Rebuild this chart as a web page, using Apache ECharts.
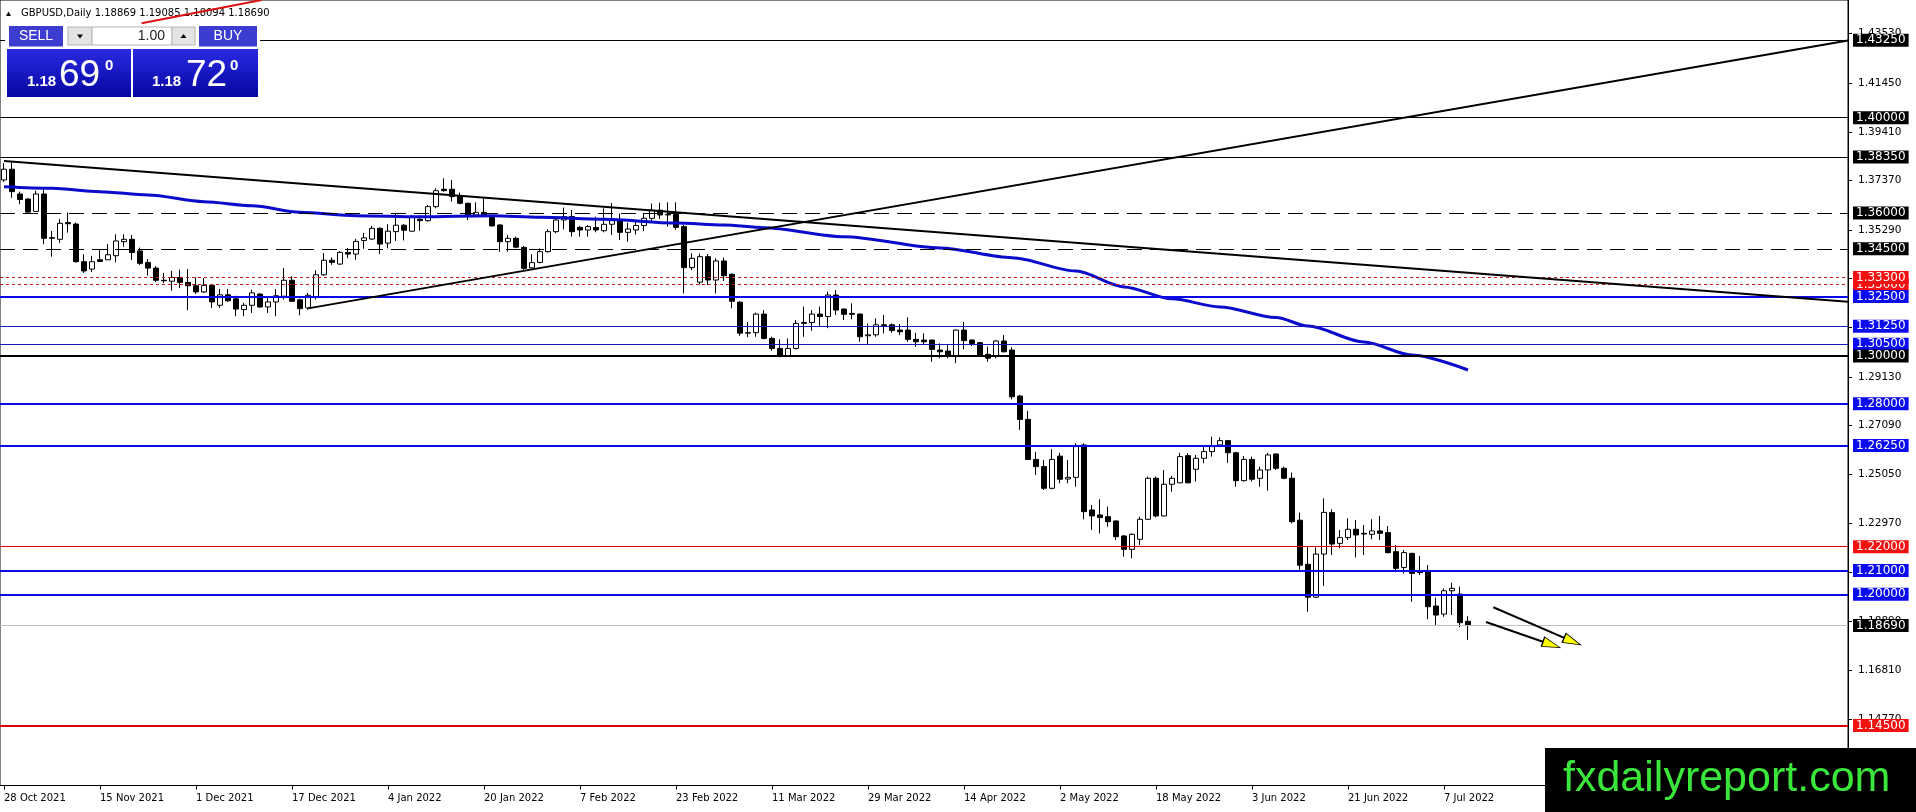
<!DOCTYPE html>
<html><head><meta charset="utf-8">
<script src="https://cdn.jsdelivr.net/npm/echarts@6/dist/echarts.min.js"></script>
<style>html,body{margin:0;padding:0;background:#fff;overflow:hidden}#c{width:1916px;height:812px}</style>
</head><body><div id="c"></div>
<script>
// ---------- DATA ----------
const dates = [
'2021-10-28','2021-10-29',
'2021-11-01','2021-11-02','2021-11-03','2021-11-04','2021-11-05','2021-11-08','2021-11-09','2021-11-10','2021-11-11','2021-11-12',
'2021-11-15','2021-11-16','2021-11-17','2021-11-18','2021-11-19','2021-11-22','2021-11-23','2021-11-24','2021-11-25','2021-11-26','2021-11-29','2021-11-30',
'2021-12-01','2021-12-02','2021-12-03','2021-12-06','2021-12-07','2021-12-08','2021-12-09','2021-12-10','2021-12-13','2021-12-14','2021-12-15','2021-12-16',
'2021-12-17','2021-12-20','2021-12-21','2021-12-22','2021-12-23','2021-12-24','2021-12-27','2021-12-28','2021-12-29','2021-12-30','2021-12-31',
'2022-01-03','2022-01-04','2022-01-05','2022-01-06','2022-01-07','2022-01-10','2022-01-11','2022-01-12','2022-01-13','2022-01-14',
'2022-01-17','2022-01-18','2022-01-19','2022-01-20','2022-01-21','2022-01-24','2022-01-25','2022-01-26','2022-01-27','2022-01-28','2022-01-31',
'2022-02-01','2022-02-02','2022-02-03','2022-02-04','2022-02-07','2022-02-08','2022-02-09','2022-02-10','2022-02-11',
'2022-02-14','2022-02-15','2022-02-16','2022-02-17','2022-02-18','2022-02-21','2022-02-22','2022-02-23','2022-02-24','2022-02-25','2022-02-28',
'2022-03-01','2022-03-02','2022-03-03','2022-03-04','2022-03-07','2022-03-08','2022-03-09','2022-03-10','2022-03-11',
'2022-03-14','2022-03-15','2022-03-16','2022-03-17','2022-03-18','2022-03-21','2022-03-22','2022-03-23','2022-03-24','2022-03-25',
'2022-03-28','2022-03-29','2022-03-30','2022-03-31','2022-04-01','2022-04-04','2022-04-05','2022-04-06','2022-04-07','2022-04-08',
'2022-04-11','2022-04-12','2022-04-13','2022-04-14','2022-04-15','2022-04-18','2022-04-19','2022-04-20','2022-04-21','2022-04-22',
'2022-04-25','2022-04-26','2022-04-27','2022-04-28','2022-04-29','2022-05-02','2022-05-03','2022-05-04','2022-05-05','2022-05-06',
'2022-05-09','2022-05-10','2022-05-11','2022-05-12','2022-05-13','2022-05-16','2022-05-17','2022-05-18','2022-05-19','2022-05-20',
'2022-05-23','2022-05-24','2022-05-25','2022-05-26','2022-05-27','2022-05-30','2022-05-31','2022-06-01','2022-06-02','2022-06-03',
'2022-06-06','2022-06-07','2022-06-08','2022-06-09','2022-06-10','2022-06-13','2022-06-14','2022-06-15','2022-06-16','2022-06-17',
'2022-06-20','2022-06-21','2022-06-22','2022-06-23','2022-06-24','2022-06-27','2022-06-28','2022-06-29','2022-06-30',
'2022-07-01','2022-07-04','2022-07-05','2022-07-06','2022-07-07','2022-07-08','2022-07-11','2022-07-12'
];
const opens = [
1.3739,1.3784,1.3680,1.3659,1.3607,1.3680,1.3494,1.3490,1.3560,1.3554,
1.3396,1.3365,1.3404,1.3404,1.3421,1.3480,1.3490,1.3441,1.3393,1.3369,
1.3318,1.3314,1.3330,1.3309,1.3295,1.3269,1.3297,1.3213,1.3257,1.3240,
1.3195,1.3213,1.3260,1.3206,1.3227,1.3251,1.3318,1.3236,1.3202,1.3248,
1.3341,1.3402,1.3386,1.3435,1.3428,1.3485,1.3491,1.3536,1.3474,1.3522,
1.3549,1.3524,1.3574,1.3568,1.3627,1.3700,1.3700,1.3672,1.3641,1.3592,
1.3603,1.3582,1.3550,1.3480,1.3494,1.3456,1.3370,1.3393,1.3438,1.3522,
1.3571,1.3585,1.3540,1.3529,1.3539,1.3526,1.3553,1.3568,1.3519,1.3529,
1.3548,1.3578,1.3612,1.3592,1.3595,1.3543,1.3371,1.3310,1.3417,1.3319,
1.3399,1.3343,1.3226,1.3096,1.3098,1.3176,1.3074,1.3032,1.2999,1.3032,
1.3137,1.3141,1.3176,1.3166,1.3256,1.3197,1.3179,1.3176,1.3085,1.3089,
1.3131,1.3131,1.3109,1.3109,1.3070,1.3067,1.3067,1.3025,1.3021,1.3000,
1.3109,1.3067,1.3056,1.3007,1.2998,1.3063,1.3025,1.2832,1.2734,1.2566,
1.2536,1.2445,1.2580,1.2484,1.2491,1.2627,1.2354,1.2333,1.2326,1.2308,
1.2245,1.2189,1.2231,1.2315,1.2487,1.2329,1.2462,1.2468,1.2582,1.2525,
1.2571,1.2599,1.2627,1.2645,1.2594,1.2477,1.2566,1.2487,1.2522,1.2589,
1.2529,1.2487,1.2311,1.2126,1.1988,1.2169,1.2343,1.2214,1.2238,1.2273,
1.2256,1.2252,1.2266,1.2259,1.2179,1.2113,1.2172,1.2098,1.2098,1.1951,
1.1917,1.2015,1.2001,1.18869
];
const highs = [
1.3810,1.3816,1.3690,1.3662,1.3694,1.3701,1.3525,1.3575,1.3602,1.3560,
1.3427,1.3420,1.3445,1.3470,1.3511,1.3511,1.3508,1.3455,1.3407,1.3377,
1.3349,1.3358,1.3362,1.3365,1.3330,1.3327,1.3302,1.3281,1.3281,1.3253,
1.3223,1.3278,1.3265,1.3251,1.3281,1.3369,1.3335,1.3241,1.3265,1.3360,
1.3432,1.3414,1.3440,1.3453,1.3492,1.3517,1.3546,1.3540,1.3553,1.3599,
1.3553,1.3592,1.3592,1.3634,1.3704,1.3746,1.3739,1.3686,1.3644,1.3645,
1.3662,1.3588,1.3553,1.3508,1.3501,1.3462,1.3427,1.3452,1.3532,1.3578,
1.3623,1.3613,1.3546,1.3550,1.3585,1.3620,1.3642,1.3598,1.3560,1.3570,
1.3600,1.3640,1.3643,1.3645,1.3645,1.3550,1.3431,1.3430,1.3428,1.3410,
1.3413,1.3347,1.3231,1.3142,1.3182,1.3193,1.3081,1.3070,1.3074,1.3151,
1.3207,1.3193,1.3207,1.3270,1.3277,1.3200,1.3221,1.3179,1.3137,1.3158,
1.3172,1.3137,1.3134,1.3162,1.3098,1.3095,1.3069,1.3053,1.3050,1.3112,
1.3144,1.3070,1.3060,1.3039,1.3067,1.3088,1.3037,1.2837,1.2770,1.2598,
1.2564,1.2609,1.2594,1.2564,1.2634,1.2634,1.2375,1.2399,1.2368,1.2310,
1.2249,1.2256,1.2326,1.2494,1.2494,1.2522,1.2497,1.2594,1.2592,1.2585,
1.2620,1.2662,1.2659,1.2648,1.2598,1.2580,1.2578,1.2536,1.2594,1.2592,
1.2536,1.2511,1.2343,1.2203,1.2197,1.2403,1.2357,1.2270,1.2319,1.2312,
1.2291,1.2315,1.2329,1.2287,1.2207,1.2186,1.2174,1.2161,1.2123,1.1986,
1.2025,1.2049,1.2032,1.19085
];
const lows = [
1.3731,1.3664,1.3637,1.3599,1.3605,1.3469,1.3417,1.3475,1.3518,1.3392,
1.3349,1.3353,1.3396,1.3403,1.3393,1.3459,1.3403,1.3382,1.3337,1.3311,
1.3307,1.3274,1.3285,1.3192,1.3261,1.3265,1.3202,1.3202,1.3227,1.3167,
1.3167,1.3181,1.3202,1.3181,1.3167,1.3237,1.3227,1.3171,1.3194,1.3237,
1.3337,1.3383,1.3383,1.3411,1.3404,1.3450,1.3487,1.3428,1.3452,1.3483,
1.3485,1.3522,1.3526,1.3564,1.3620,1.3690,1.3648,1.3637,1.3571,1.3588,
1.3588,1.3543,1.3438,1.3438,1.3452,1.3361,1.3365,1.3389,1.3434,1.3515,
1.3532,1.3501,1.3501,1.3501,1.3519,1.3519,1.3508,1.3487,1.3480,1.3510,
1.3525,1.3560,1.3575,1.3543,1.3530,1.3263,1.3361,1.3300,1.3298,1.3263,
1.3315,1.3200,1.3085,1.3079,1.3081,1.3070,1.3022,1.2995,1.2997,1.3028,
1.3081,1.3106,1.3123,1.3117,1.3172,1.3151,1.3154,1.3060,1.3046,1.3081,
1.3095,1.3098,1.3088,1.3060,1.3039,1.3050,1.2976,1.2991,1.2991,1.2970,
1.3028,1.3042,1.3000,1.2976,1.2991,1.3015,1.2818,1.2690,1.2564,1.2501,
1.2438,1.2441,1.2466,1.2466,1.2452,1.2315,1.2270,1.2256,1.2284,1.2228,
1.2158,1.2151,1.2207,1.2312,1.2323,1.2326,1.2431,1.2466,1.2466,1.2473,
1.2550,1.2578,1.2620,1.2552,1.2452,1.2473,1.2473,1.2452,1.2435,1.2522,
1.2483,1.2298,1.2102,1.1927,1.1985,1.2035,1.2165,1.2193,1.2228,1.2155,
1.2165,1.2231,1.2228,1.2172,1.2102,1.2088,1.1969,1.2081,1.1895,1.1867,
1.1906,1.1913,1.1862,1.18094
];
const closes = [
1.3784,1.3690,1.3657,1.3604,1.3680,1.3494,1.3497,1.3557,1.3555,1.3396,
1.3357,1.3396,1.3397,1.3425,1.3483,1.3490,1.3435,1.3389,1.3369,1.3318,
1.3316,1.3330,1.3309,1.3295,1.3269,1.3297,1.3227,1.3257,1.3232,1.3197,
1.3213,1.3265,1.3206,1.3227,1.3253,1.3318,1.3230,1.3199,1.3255,1.3341,
1.3402,1.3393,1.3435,1.3428,1.3481,1.3496,1.3536,1.3470,1.3524,1.3549,
1.3528,1.3582,1.3568,1.3627,1.3694,1.3694,1.3669,1.3641,1.3592,1.3603,
1.3592,1.3546,1.3480,1.3494,1.3457,1.3368,1.3392,1.3438,1.3522,1.3571,
1.3585,1.3522,1.3529,1.3543,1.3529,1.3553,1.3568,1.3519,1.3533,1.3548,
1.3578,1.3612,1.3592,1.3595,1.3540,1.3371,1.3410,1.3417,1.3319,1.3399,
1.3337,1.3230,1.3096,1.3098,1.3176,1.3074,1.3032,1.2999,1.3032,1.3137,
1.3141,1.3176,1.3166,1.3256,1.3193,1.3175,1.3175,1.3081,1.3089,1.3131,
1.3128,1.3107,1.3102,1.3070,1.3060,1.3060,1.3028,1.3018,1.3000,1.3109,
1.3065,1.3053,1.3004,1.2991,1.3063,1.3018,1.2829,1.2734,1.2566,1.2536,
1.2445,1.2566,1.2483,1.2491,1.2620,1.2347,1.2329,1.2322,1.2305,1.2242,
1.2189,1.2252,1.2315,1.2487,1.2329,1.2462,1.2487,1.2578,1.2468,1.2571,
1.2599,1.2620,1.2645,1.2594,1.2477,1.2566,1.2483,1.2522,1.2585,1.2529,
1.2487,1.2305,1.2122,1.1988,1.2169,1.2344,1.2211,1.2238,1.2273,1.2249,
1.2253,1.2266,1.2256,1.2175,1.2109,1.2175,1.2088,1.2091,1.1948,1.1913,
1.2015,1.2025,1.1881,1.18690
];
// moving average, read at sample bars
const maBars   = [0,6,12,18,25,31,37,44,52,61,67,75,84,90,95,105,117,126,134,140,146,152,159,163,170,176,183];
const maValues = [1.37106,1.37039,1.36897,1.36758,1.36477,1.36309,1.36032,1.35890,1.35848,1.35890,1.35822,1.35738,1.35583,1.35499,1.35386,1.35008,1.34534,1.34127,1.33569,1.32900,1.32400,1.32060,1.31618,1.31260,1.30590,1.30044,1.29415];
// trend lines [bar, price]
const fallingTrend = [[0,1.38185],[230.5,1.32281]];
const risingTrend  = [[38,1.3200],[230.5,1.4324]];
const redTrend     = [[17.2,1.43963],[32.2,1.44941]];
const arrowUpper   = [[186.16,1.19457],[196.05,1.18026]];
const arrowLower   = [[185.25,1.18839],[193.44,1.17887]];
// price axis tick labels
const priceTicks = [1.43530,1.41450,1.39410,1.37370,1.35290,1.33250,1.31210,1.29130,1.27090,1.25050,1.22970,1.20930,1.18890,1.16810,1.14770];
// horizontal levels grouped by drawing style
const blackSolidLevels = [1.43250,1.40000,1.38350];
const blackDashedLevels = [1.36000,1.34500];
const redDottedLevels = [1.33000,1.33300];
const blueThickLevels = [1.32500,1.28000,1.26250,1.21000,1.20000];
const blueThinLevels = [1.31250,1.30500];
const blackThickLevels = [1.30000];
const redThinLevels = [1.22000];
const redThickLevels = [1.14500];
const bidLevels = [1.18690];
const titleText = 'GBPUSD,Daily 1.18869 1.19085 1.18094 1.18690';

// ---------- BUILD ----------
const N = 231;
const cats = dates.slice();
for (let i = dates.length; i < N; i++) cats.push('_' + i);
const months = ['Jan','Feb','Mar','Apr','May','Jun','Jul','Aug','Sep','Oct','Nov','Dec'];
function fmtDate(s){ if(s.charAt(0)==='_') return ''; const p=s.split('-'); return (+p[2])+' '+months[+p[1]-1]+' '+p[0]; }
const candleData = dates.map((d,i)=>[opens[i],closes[i],lows[i],highs[i]]);
const showIdx = (idx)=> idx % 12 === 0 && idx < dates.length;

const BLUE='#0a0ae6', BLUEBOX='#0b0bf2', RED='#e00000', REDBOX='#f21010';
function lvl(v, color, width, type, box){
  return { yAxis: v, lineStyle:{color:color,width:width,type:type},
    label:{show:true,position:'end',distance:5,formatter:v.toFixed(5),color:'#fff',backgroundColor:box,
      padding:[1,3,0,3],fontSize:12,lineHeight:12,fontFamily:'"DejaVu Sans", sans-serif'} };
}
const levelItems = [];
blackSolidLevels.forEach(v=>levelItems.push(lvl(v,'#000',1,'solid','#000')));
blackDashedLevels.forEach(v=>levelItems.push(lvl(v,'#000',1,[15,8],'#000')));
redDottedLevels.forEach(v=>levelItems.push(lvl(v,'#c01818',1,[3,3],REDBOX)));
blueThinLevels.forEach(v=>levelItems.push(lvl(v,'#1818b8',1,'solid',BLUEBOX)));
blackThickLevels.forEach(v=>levelItems.push(lvl(v,'#000',2,'solid','#000')));
blueThickLevels.forEach(v=>levelItems.push(lvl(v,BLUE,2,'solid',BLUEBOX)));
redThinLevels.forEach(v=>levelItems.push(lvl(v,RED,1,'solid',REDBOX)));
redThickLevels.forEach(v=>levelItems.push(lvl(v,RED,2,'solid',REDBOX)));
bidLevels.forEach(v=>levelItems.push(lvl(v,'#c0c0c0',1,'solid','#000')));

function lineSeries(data, color, width, z){
  return {type:'line',xAxisIndex:1,yAxisIndex:0,data:data,symbol:'none',silent:true,z:z||3,
    lineStyle:{color:color,width:width},animation:false};
}
const AR='"Liberation Sans", Arial, sans-serif';
const DJ='"DejaVu Sans", sans-serif';
function txt(t,x,y,font,fill,align){
  return {type:'text',z:102,style:{text:t,x:x,y:y,font:font,fill:fill,align:align||'left',textAlign:align||'left',verticalAlign:'middle',textVerticalAlign:'middle'}};
}
const boxGrad = {type:'linear',x:0,y:0,x2:0,y2:1,colorStops:[{offset:0,color:'#2a2ae2'},{offset:1,color:'#0606a2'}]};
const graphics = [
  {type:'polygon',z:1,shape:{points:[[6,16],[8.5,11.5],[11,16]]},style:{fill:'#000'}},
  {type:'text',z:1,style:{text:titleText,x:21,y:13.5,font:'10px '+DJ,fill:'#000',verticalAlign:'middle',textVerticalAlign:'middle'}},
  {type:'rect',z:100,shape:{x:5,y:24,width:255,height:74},style:{fill:'#fff'}},
  {type:'rect',z:101,shape:{x:9,y:26,width:54,height:20},style:{fill:'#3c3cd0'}},
  {type:'rect',z:101,shape:{x:9,y:46,width:54,height:1},style:{fill:'#9c9cec'}},
  {type:'rect',z:101,shape:{x:68,y:27,width:24,height:18},style:{fill:'#e4e4e4',stroke:'#b4b4b4',lineWidth:1}},
  {type:'polygon',z:102,shape:{points:[[77,34.5],[83,34.5],[80,38.5]]},style:{fill:'#000'}},
  {type:'rect',z:101,shape:{x:92,y:27,width:80,height:18},style:{fill:'#fff',stroke:'#b4b4b4',lineWidth:1}},
  {type:'rect',z:101,shape:{x:172,y:27,width:23,height:18},style:{fill:'#e4e4e4',stroke:'#b4b4b4',lineWidth:1}},
  {type:'polygon',z:102,shape:{points:[[180.5,38],[186.5,38],[183.5,34]]},style:{fill:'#000'}},
  {type:'rect',z:101,shape:{x:199,y:26,width:58,height:20},style:{fill:'#3c3cd0'}},
  {type:'rect',z:101,shape:{x:199,y:46,width:58,height:1},style:{fill:'#9c9cec'}},
  txt('SELL',36,36.5,'14px '+AR,'#fff','center'),
  txt('1.00',165,36.5,'14px '+AR,'#222','right'),
  txt('BUY',228,36.5,'14px '+AR,'#fff','center'),
  {type:'rect',z:101,shape:{x:7,y:49,width:124,height:48},style:{fill:boxGrad}},
  {type:'rect',z:101,shape:{x:133,y:49,width:125,height:48},style:{fill:boxGrad}},
  txt('1.18',27,82,'bold 15px '+AR,'#fff'),
  txt('69',59,75.5,'37px '+AR,'#fff'),
  txt('0',105,66,'bold 15px '+AR,'#fff'),
  txt('1.18',152,82,'bold 15px '+AR,'#fff'),
  txt('72',186,75.5,'37px '+AR,'#fff'),
  txt('0',230,66,'bold 15px '+AR,'#fff'),
  {type:'rect',z:110,shape:{x:1545,y:748,width:371,height:64},style:{fill:'#000'}},
  {type:'text',z:111,style:{text:'fxdailyreport.com',x:1563,y:779,font:'43px '+AR,fill:'#3be63b',verticalAlign:'middle',textVerticalAlign:'middle'}}
];

const option = {
  animation:false,
  backgroundColor:'#fff',
  grid:{left:0,top:0,width:1848,bottom:26.5,show:true,borderColor:'#000',borderWidth:1,backgroundColor:'transparent'},
  xAxis:[
    {type:'category',data:cats,boundaryGap:true,
     axisLine:{show:true,onZero:false,lineStyle:{color:'#000',width:1}},
     axisTick:{show:true,interval:showIdx,alignWithLabel:true,length:4,lineStyle:{color:'#000'}},
     axisLabel:{show:true,interval:showIdx,align:'left',margin:8,color:'#000',fontSize:10,fontFamily:DJ,formatter:fmtDate},
     splitLine:{show:false}},
    {type:'value',min:-0.5,max:N-0.5,show:false,axisLine:{onZero:false},splitLine:{show:false}}
  ],
  yAxis:{type:'value',position:'right',min:1.11978,max:1.44941,
    axisLine:{show:true,onZero:false,lineStyle:{color:'#000'}},
    axisTick:{show:true,length:4,customValues:priceTicks,lineStyle:{color:'#000'}},
    axisLabel:{show:true,customValues:priceTicks,margin:10,color:'#000',fontSize:10.5,fontFamily:DJ,formatter:(v)=>v.toFixed(5)},
    splitLine:{show:false}},
  series:[
    {type:'candlestick',xAxisIndex:0,yAxisIndex:0,data:candleData,barWidth:5,silent:true,
     itemStyle:{color:'#fff',color0:'#000',borderColor:'#000',borderColor0:'#000',borderWidth:1},
     markLine:{silent:true,precision:6,symbol:['none','none'],animation:false,data:levelItems,z:5}},
    Object.assign(lineSeries(maBars.map((b,i)=>[b,maValues[i]]),'#0b0bcc',3,4),{smooth:0.3,smoothMonotone:'x'}),
    lineSeries(fallingTrend,'#000',2,6),
    lineSeries(risingTrend,'#000',2,6),
    lineSeries(redTrend,'#dd1111',2,6),
    lineSeries(arrowUpper,'#000',2,7),
    lineSeries(arrowLower,'#000',2,7),
    {type:'scatter',xAxisIndex:1,yAxisIndex:0,silent:true,z:8,symbol:'triangle',symbolSize:[10,18],
     itemStyle:{color:'#ffff00',borderColor:'#000',borderWidth:1,opacity:1},
     data:[{value:arrowUpper[1],symbolRotate:-113.3},{value:arrowLower[1],symbolRotate:-109.2}]}
  ],
  graphic:{elements:graphics}
};
const chart = echarts.init(document.getElementById('c'), null, {width:1916,height:812});
chart.setOption(option);
</script>
</body></html>
